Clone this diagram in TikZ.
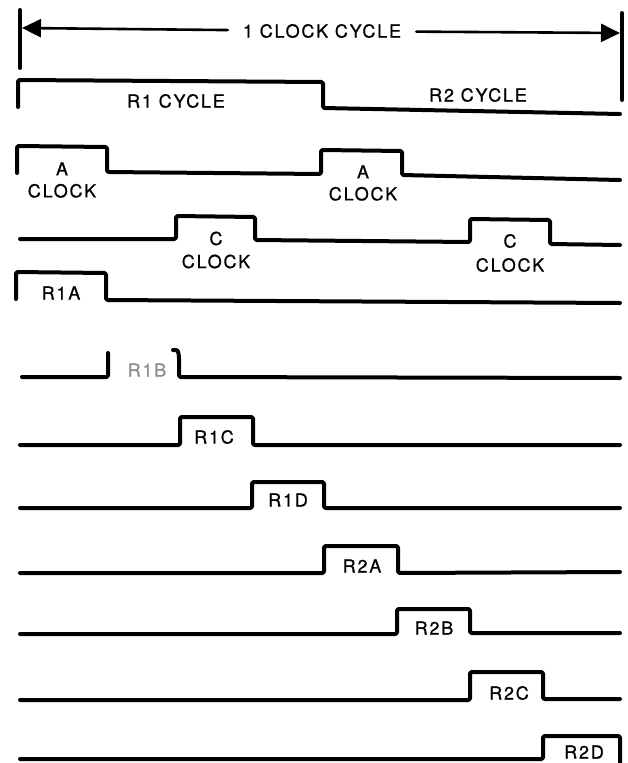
\documentclass[tikz,border=0pt]{standalone}
\usepackage{fontspec}
\usetikzlibrary{arrows.meta}

\newfontfamily\timingfont{TeX Gyre Heros}[LetterSpace=10, FakeBold=0.8]
\newcommand{\lblfont}{\timingfont\fontsize{18}{22}\selectfont}

\begin{document}
\begin{tikzpicture}[
        x = 1pt, y = -1pt, % one unit per pixel, y counts downwards
        > = {Triangle[length=19pt, width=18pt]}, % arrow head style
        line cap = round,
        line join = round
    ]

    \tikzstyle{every node}=[
    font = \lblfont,
    inner sep = 0pt,
    align = center
    ]
    \tikzstyle{wave}=[line width = 4pt, rounded corners = 1.5pt]
    \tikzstyle{tick}=[line width = 4pt]
    \tikzstyle{span}=[line width = 2.6pt]
    \tikzstyle{faded}=[text = black!45]

    \useasboundingbox (0,0) rectangle (627,763);

    % one clock cycle
    \draw[tick] (20,10) -- (20,68);
    \draw[tick] (622,13) -- (622,100);
    \node (cyc) [inner xsep = 15pt] at (322,31) {1 CLOCK CYCLE};
    \coordinate (cycl) at (22,28);
    \coordinate (cycr) at (620,33);
    \draw[span, ->] (cyc) -- (cycl);
    \draw[span, ->] (cyc) -- (cycr);

    % R1 / R2 cycle
    \draw[wave] (18,107) -- (18,80) -- (323,82) -- (323,108) -- (620,114);
    \node (r1cyc) at (176,101) {R1 CYCLE};
    \node (r2cyc) at (478,95) {R2 CYCLE};

    % A clock
    \draw[wave] (17,173) -- (17,146) -- (107,147) -- (107,172) -- (321,174)
        -- (321,150) -- (402,151) -- (402,175) -- (620,180);
    \node (aclk1) at (62,180) {A\\CLOCK};
    \node (aclk2) at (363,183) {A\\CLOCK};

    % C clock
    \draw[wave] (20,239) -- (176,239) -- (176,216) -- (255,217) -- (255,240)
        -- (470,242) -- (470,219) -- (550,220) -- (550,244) -- (620,245);
    \node (cclk1) at (216,250) {C\\[1pt]CLOCK};
    \node (cclk2) at (510,253) {C\\[2pt]CLOCK};

    % R1A
    \draw[wave] (16,299) -- (16,272) -- (106,273) -- (106,300) -- (620,303);
    \node (r1a) at (61,293) {R1A};

    % R1B
    \draw[wave] (22,377) -- (108,377) -- (108,353);
    \draw[wave] (173,350) .. controls (178,350) .. (179,357) -- (179,377) -- (620,378);
    \node (r1b) [faded] at (147,370) {R1B};

    % R1C
    \draw[wave] (20,445) -- (180,445) -- (180,417) -- (253,417) -- (253,445) -- (620,445);
    \node (r1c) at (214,437) {R1C};

    % R1D
    \draw[wave] (20,508) -- (252,508) -- (252,482) -- (324,482) -- (324,508) -- (620,508);
    \node (r1d) at (288,500) {R1D};

    % R2A
    \draw[wave] (20,573) -- (324,573) -- (324,546) -- (398,546) -- (398,573) -- (620,572);
    \node (r2a) at (362,566) {R2A};

    % R2B
    \draw[wave] (20,634) -- (397,634) -- (397,609) -- (470,609) -- (470,633) -- (620,633);
    \node (r2b) at (434,628) {R2B};

    % R2C
    \draw[wave] (20,700) -- (470,700) -- (470,672) -- (543,672) -- (543,699) -- (620,699);
    \node (r2c) at (509,693) {R2C};

    % R2D
    \draw[wave] (20,759) -- (543,759) -- (543,736) -- (620,736) -- (620,765);
    \node (r2d) at (584,752) {R2D};
\end{tikzpicture}
\end{document}
